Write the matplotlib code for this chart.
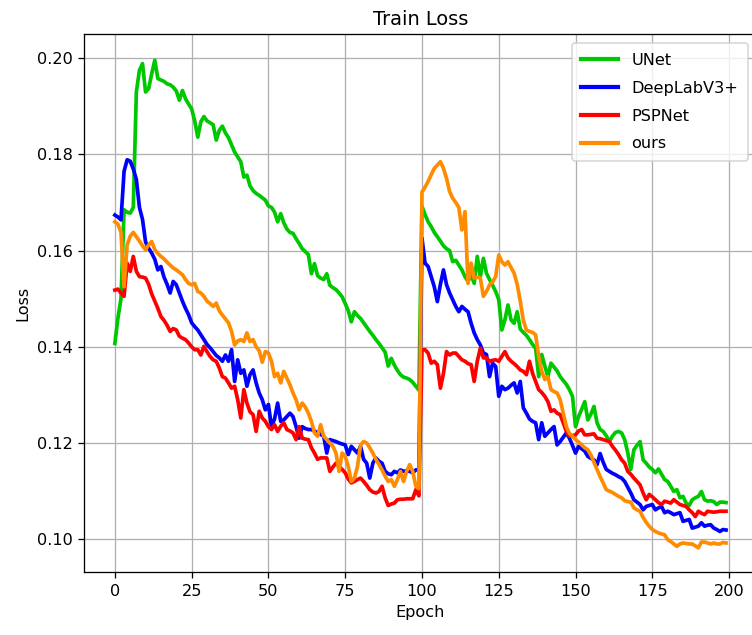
import numpy as np
import matplotlib
matplotlib.use("Agg")
import matplotlib.pyplot as plt

# loss per epoch (0..199)
unet = [
    0.1407, 0.1460, 0.1500, 0.1685, 0.1680, 0.1678, 0.1690, 0.1930, 0.1975, 0.1989,
    0.1930, 0.1937, 0.1968, 0.1996, 0.1958, 0.1955, 0.1952, 0.1947, 0.1945, 0.1940,
    0.1932, 0.1913, 0.1933, 0.1916, 0.1905, 0.1895, 0.1870, 0.1836, 0.1868, 0.1879,
    0.1870, 0.1866, 0.1862, 0.1830, 0.1850, 0.1859, 0.1845, 0.1835, 0.1820, 0.1805,
    0.1795, 0.1785, 0.1753, 0.1757, 0.1735, 0.1725, 0.1719, 0.1715, 0.1710, 0.1705,
    0.1693, 0.1690, 0.1680, 0.1660, 0.1677, 0.1658, 0.1645, 0.1638, 0.1636, 0.1625,
    0.1615, 0.1604, 0.1598, 0.1592, 0.1552, 0.1573, 0.1548, 0.1543, 0.1540, 0.1552,
    0.1528, 0.1523, 0.1519, 0.1512, 0.1504, 0.1490, 0.1475, 0.1452, 0.1473, 0.1465,
    0.1459, 0.1450, 0.1441, 0.1432, 0.1424, 0.1415, 0.1407, 0.1398, 0.1389, 0.1360,
    0.1376, 0.1362, 0.1351, 0.1342, 0.1337, 0.1335, 0.1332, 0.1326, 0.1318, 0.1310,
    0.1692, 0.1675, 0.1660, 0.1650, 0.1638, 0.1629, 0.1620, 0.1610, 0.1604, 0.1600,
    0.1577, 0.1580, 0.1570, 0.1560, 0.1546, 0.1536, 0.1550, 0.1532, 0.1588, 0.1546,
    0.1584, 0.1553, 0.1540, 0.1528, 0.1515, 0.1498, 0.1435, 0.1456, 0.1487, 0.1456,
    0.1449, 0.1473, 0.1437, 0.1430, 0.1424, 0.1415, 0.1405, 0.1397, 0.1338, 0.1384,
    0.1360, 0.1338, 0.1366, 0.1358, 0.1350, 0.1338, 0.1330, 0.1322, 0.1311, 0.1297,
    0.1234, 0.1255, 0.1270, 0.1286, 0.1248, 0.1260, 0.1276, 0.1242, 0.1228, 0.1224,
    0.1215, 0.1203, 0.1214, 0.1222, 0.1224, 0.1221, 0.1207, 0.1180, 0.1145, 0.1186,
    0.1195, 0.1203, 0.1165, 0.1158, 0.1150, 0.1145, 0.1138, 0.1146, 0.1135, 0.1124,
    0.1120, 0.1110, 0.1099, 0.1103, 0.1086, 0.1089, 0.1075, 0.1070, 0.1082, 0.1086,
    0.1089, 0.1099, 0.1082, 0.1079, 0.1080, 0.1078, 0.1072, 0.1077, 0.1077, 0.1076,
]

deeplab = [
    0.1674, 0.1670, 0.1664, 0.1765, 0.1789, 0.1786, 0.1770, 0.1748, 0.1690, 0.1665,
    0.1618, 0.1605, 0.1595, 0.1582, 0.1560, 0.1567, 0.1545, 0.1530, 0.1512, 0.1536,
    0.1529, 0.1512, 0.1495, 0.1480, 0.1467, 0.1450, 0.1442, 0.1435, 0.1425, 0.1415,
    0.1405, 0.1398, 0.1390, 0.1382, 0.1377, 0.1370, 0.1383, 0.1370, 0.1394, 0.1328,
    0.1373, 0.1345, 0.1352, 0.1318, 0.1342, 0.1352, 0.1325, 0.1304, 0.1290, 0.1269,
    0.1280, 0.1234, 0.1250, 0.1283, 0.1245, 0.1248, 0.1255, 0.1262, 0.1255, 0.1234,
    0.1210, 0.1234, 0.1230, 0.1228, 0.1228, 0.1225, 0.1221, 0.1218, 0.1214, 0.1179,
    0.1207, 0.1205, 0.1203, 0.1200, 0.1198, 0.1196, 0.1176, 0.1193, 0.1186, 0.1179,
    0.1193, 0.1166, 0.1158, 0.1127, 0.1158, 0.1169, 0.1162, 0.1158, 0.1141, 0.1136,
    0.1134, 0.1141, 0.1138, 0.1144, 0.1141, 0.1142, 0.1141, 0.1138, 0.1144, 0.1144,
    0.1626, 0.1574, 0.1567, 0.1546, 0.1525, 0.1494, 0.1530, 0.1560, 0.1529, 0.1512,
    0.1498, 0.1484, 0.1473, 0.1484, 0.1478, 0.1473, 0.1449, 0.1429, 0.1415, 0.1404,
    0.1387, 0.1384, 0.1338, 0.1366, 0.1359, 0.1297, 0.1318, 0.1311, 0.1314, 0.1320,
    0.1325, 0.1304, 0.1328, 0.1273, 0.1262, 0.1250, 0.1245, 0.1242, 0.1207, 0.1242,
    0.1214, 0.1221, 0.1228, 0.1234, 0.1196, 0.1203, 0.1212, 0.1221, 0.1210, 0.1195,
    0.1179, 0.1193, 0.1188, 0.1183, 0.1172, 0.1168, 0.1165, 0.1155, 0.1178, 0.1160,
    0.1145, 0.1141, 0.1137, 0.1134, 0.1130, 0.1127, 0.1120, 0.1108, 0.1096, 0.1082,
    0.1077, 0.1072, 0.1061, 0.1068, 0.1070, 0.1072, 0.1061, 0.1065, 0.1068, 0.1055,
    0.1058, 0.1055, 0.1051, 0.1053, 0.1055, 0.1037, 0.1039, 0.1041, 0.1023, 0.1025,
    0.1027, 0.1034, 0.1027, 0.1029, 0.1030, 0.1023, 0.1020, 0.1016, 0.1020, 0.1019,
]

pspnet = [
    0.1518, 0.1520, 0.1512, 0.1505, 0.1574, 0.1557, 0.1588, 0.1557, 0.1546, 0.1545,
    0.1543, 0.1530, 0.1510, 0.1495, 0.1480, 0.1463, 0.1455, 0.1445, 0.1432, 0.1438,
    0.1435, 0.1422, 0.1418, 0.1415, 0.1408, 0.1400, 0.1394, 0.1394, 0.1383, 0.1401,
    0.1390, 0.1380, 0.1373, 0.1370, 0.1356, 0.1338, 0.1335, 0.1325, 0.1314, 0.1318,
    0.1290, 0.1252, 0.1311, 0.1283, 0.1265, 0.1259, 0.1224, 0.1266, 0.1252, 0.1245,
    0.1234, 0.1228, 0.1238, 0.1224, 0.1235, 0.1242, 0.1228, 0.1225, 0.1221, 0.1207,
    0.1234, 0.1210, 0.1208, 0.1207, 0.1190, 0.1179, 0.1166, 0.1169, 0.1169, 0.1169,
    0.1141, 0.1150, 0.1158, 0.1151, 0.1145, 0.1138, 0.1125, 0.1117, 0.1120, 0.1124,
    0.1127, 0.1120, 0.1112, 0.1103, 0.1098, 0.1096, 0.1099, 0.1110, 0.1086, 0.1070,
    0.1073, 0.1075, 0.1082, 0.1083, 0.1083, 0.1084, 0.1084, 0.1084, 0.1103, 0.1090,
    0.1394, 0.1394, 0.1387, 0.1366, 0.1370, 0.1363, 0.1314, 0.1345, 0.1390, 0.1383,
    0.1387, 0.1387, 0.1380, 0.1373, 0.1370, 0.1365, 0.1363, 0.1328, 0.1370, 0.1397,
    0.1377, 0.1377, 0.1370, 0.1372, 0.1373, 0.1370, 0.1380, 0.1390, 0.1377, 0.1370,
    0.1365, 0.1359, 0.1352, 0.1349, 0.1342, 0.1370, 0.1345, 0.1328, 0.1311, 0.1305,
    0.1297, 0.1286, 0.1266, 0.1269, 0.1262, 0.1259, 0.1242, 0.1224, 0.1214, 0.1215,
    0.1217, 0.1225, 0.1228, 0.1217, 0.1217, 0.1218, 0.1219, 0.1210, 0.1209, 0.1207,
    0.1205, 0.1203, 0.1193, 0.1185, 0.1176, 0.1165, 0.1158, 0.1141, 0.1135, 0.1127,
    0.1120, 0.1113, 0.1096, 0.1082, 0.1093, 0.1088, 0.1082, 0.1076, 0.1072, 0.1079,
    0.1077, 0.1075, 0.1082, 0.1077, 0.1072, 0.1070, 0.1068, 0.1061, 0.1055, 0.1047,
    0.1058, 0.1054, 0.1051, 0.1058, 0.1057, 0.1056, 0.1057, 0.1058, 0.1058, 0.1058,
]

ours = [
    0.1660, 0.1655, 0.1638, 0.1525, 0.1612, 0.1630, 0.1638, 0.1629, 0.1620, 0.1610,
    0.1602, 0.1612, 0.1619, 0.1602, 0.1594, 0.1588, 0.1583, 0.1576, 0.1570, 0.1564,
    0.1560, 0.1555, 0.1550, 0.1540, 0.1532, 0.1529, 0.1532, 0.1515, 0.1512, 0.1505,
    0.1495, 0.1490, 0.1484, 0.1491, 0.1475, 0.1466, 0.1458, 0.1450, 0.1432, 0.1404,
    0.1412, 0.1415, 0.1411, 0.1429, 0.1411, 0.1415, 0.1400, 0.1392, 0.1368, 0.1390,
    0.1387, 0.1370, 0.1338, 0.1345, 0.1325, 0.1349, 0.1335, 0.1321, 0.1304, 0.1290,
    0.1269, 0.1283, 0.1275, 0.1262, 0.1245, 0.1221, 0.1214, 0.1238, 0.1214, 0.1207,
    0.1200, 0.1193, 0.1179, 0.1141, 0.1179, 0.1172, 0.1151, 0.1120, 0.1127, 0.1151,
    0.1196, 0.1203, 0.1200, 0.1190, 0.1179, 0.1166, 0.1155, 0.1144, 0.1131, 0.1120,
    0.1124, 0.1110, 0.1124, 0.1141, 0.1120, 0.1141, 0.1155, 0.1141, 0.1110, 0.1105,
    0.1722, 0.1732, 0.1744, 0.1758, 0.1771, 0.1778, 0.1785, 0.1771, 0.1750, 0.1723,
    0.1709, 0.1700, 0.1690, 0.1643, 0.1681, 0.1532, 0.1574, 0.1543, 0.1545, 0.1543,
    0.1505, 0.1515, 0.1529, 0.1535, 0.1546, 0.1591, 0.1577, 0.1570, 0.1577, 0.1565,
    0.1553, 0.1530, 0.1495, 0.1455, 0.1435, 0.1432, 0.1430, 0.1425, 0.1380, 0.1349,
    0.1332, 0.1338, 0.1311, 0.1307, 0.1304, 0.1290, 0.1262, 0.1234, 0.1220, 0.1214,
    0.1207, 0.1202, 0.1196, 0.1190, 0.1186, 0.1175, 0.1160, 0.1145, 0.1130, 0.1117,
    0.1103, 0.1100, 0.1097, 0.1093, 0.1089, 0.1086, 0.1080, 0.1078, 0.1077, 0.1065,
    0.1061, 0.1058, 0.1045, 0.1035, 0.1027, 0.1020, 0.1016, 0.1013, 0.1011, 0.1009,
    0.0999, 0.0995, 0.0990, 0.0985, 0.0990, 0.0992, 0.0991, 0.0990, 0.0990, 0.0986,
    0.0982, 0.0994, 0.0994, 0.0992, 0.0990, 0.0992, 0.0990, 0.0990, 0.0993, 0.0992,
]

labels = ["UNet", "DeepLabV3+", "PSPNet", "ours"]
colors = ["#00c800", "#0000ff", "#ff0000", "#ff8c00"]

epochs = np.arange(len(unet))

dpi = 116
fig = plt.figure(figsize=(752 / dpi, 635 / dpi), dpi=dpi)
ax = fig.add_axes([0.1121, 0.0987, 0.894, 0.8473])

for series, name, c in zip([unet, deeplab, pspnet, ours], labels, colors):
    ax.plot(epochs, series, color=c, linewidth=2.3, label=name)

ax.set_xlim(-9.95, 208.95)
ax.set_ylim(0.0931, 0.2050)
ax.set_xticks([0, 25, 50, 75, 100, 125, 150, 175, 200])
ax.set_yticks([0.10, 0.12, 0.14, 0.16, 0.18, 0.20])
ax.set_title("Train Loss")
ax.set_xlabel("Epoch")
ax.set_ylabel("Loss")
ax.grid(True)
ax.spines["right"].set_visible(False)

leg = ax.legend(loc="upper right", labelspacing=0.8, borderpad=0.6,
                handlelength=2.3, handletextpad=0.8, borderaxespad=0.55)
for line in leg.get_lines():
    line.set_linewidth(2.6)

fig.savefig("out.png", dpi=dpi)
